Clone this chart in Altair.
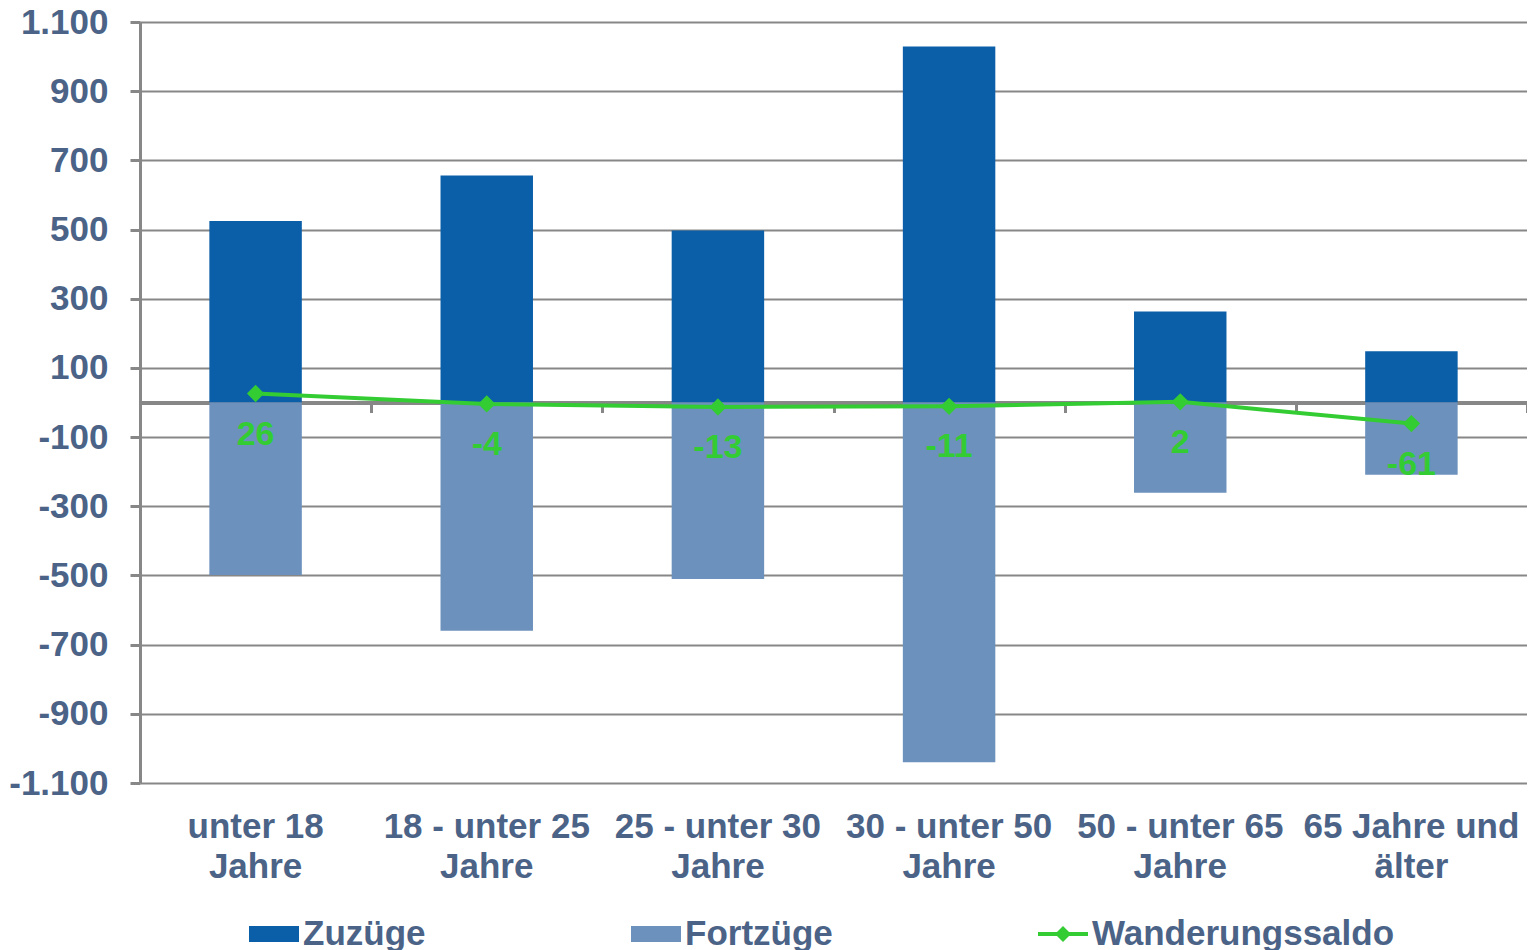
import altair as alt
import pandas as pd

categories = ["unter 18\nJahre", "18 - unter 25\nJahre", "25 - unter 30\nJahre",
              "30 - unter 50\nJahre", "50 - unter 65\nJahre", "65 Jahre und\nälter"]
zuzuege = [525, 656, 497, 1029, 263, 148]
fortzuege = [-499, -660, -510, -1040, -261, -209]
saldo = [26, -4, -13, -11, 2, -61]
series = ["Zuzüge", "Fortzüge", "Wanderungssaldo"]
colors = ["#0B5FA8", "#6C91BD", "#33CC33"]
y_ticks = [-1100, -900, -700, -500, -300, -100, 100, 300, 500, 700, 900, 1100]

rows = []
for c, z, f in zip(categories, zuzuege, fortzuege):
    rows.append({"kategorie": c, "serie": "Zuzüge", "wert": z})
    rows.append({"kategorie": c, "serie": "Fortzüge", "wert": f})
df_bars = pd.DataFrame(rows)
df_line = pd.DataFrame({"kategorie": categories, "saldo": saldo})
df_legend = pd.concat([df_bars, pd.DataFrame({"kategorie": categories,
                                              "serie": "Wanderungssaldo",
                                              "wert": saldo})], ignore_index=True)
df_legend["unsichtbar"] = 0

FONT = "Liberation Sans"
LBL = "#4B6387"
GRID = "#878787"

xscale = alt.Scale(domain=categories, paddingInner=0.6, paddingOuter=0.3)
xscale_full = alt.Scale(domain=categories, paddingInner=0, paddingOuter=0)
yscale = alt.Scale(domain=[-1100, 1100], nice=False, zero=False)

y_axis = alt.Axis(values=y_ticks, title=None,
                  labelExpr="replace(replace(format(datum.value, ','), ',', '.'), '\u2212', '-')",
                  labelFont=FONT, labelFontWeight="bold", labelFontSize=35, labelColor=LBL,
                  labelPadding=22, domainColor=GRID, domainWidth=3,
                  tickColor=GRID, tickWidth=3, tickSize=10,
                  gridColor=GRID, gridWidth=2)

rect_path = "M-1,-0.32H1V0.32H-1Z"
line_path = "M-1,-0.08H1V0.08H-1Z M0,-0.32L0.32,0L0,0.32L-0.32,0Z"

legend = alt.Legend(title=None, orient="none", legendX=109, legendY=887,
                    direction="horizontal", columns=3, columnPadding=205,
                    padding=0, symbolSize=2500, symbolStrokeWidth=0,
                    symbolOpacity=1,
                    labelFont=FONT, labelFontWeight="bold", labelFontSize=35,
                    labelColor=LBL, labelOffset=4, labelLimit=400)

color_enc = alt.Color("serie:N", scale=alt.Scale(domain=series, range=colors), legend=legend)

legend_carrier = alt.Chart(df_legend).mark_point(filled=True, size=2500, strokeWidth=0).encode(
    x=alt.X("kategorie:N", sort=categories, scale=xscale, axis=None),
    y=alt.Y("wert:Q", scale=yscale, axis=y_axis),
    color=color_enc,
    shape=alt.Shape("serie:N", scale=alt.Scale(domain=series,
                                               range=[rect_path, rect_path, line_path]),
                    legend=legend),
    opacity=alt.Opacity("unsichtbar:Q", scale=alt.Scale(domain=[0, 1], range=[0, 0]),
                        legend=None),
)

bars = alt.Chart(df_bars).mark_bar().encode(
    x=alt.X("kategorie:N", sort=categories, scale=xscale,
            axis=alt.Axis(title=None, domain=False, ticks=False, grid=False,
                          labelAngle=0, labelExpr="split(datum.label, '\\n')",
                          labelFont=FONT, labelFontWeight="bold", labelFontSize=35,
                          labelColor=LBL, labelPadding=26, labelLineHeight=40,
                          labelLimit=400)),
    y=alt.Y("wert:Q", scale=yscale, axis=y_axis, stack=None),
    color=color_enc,
)

line = alt.Chart(df_line).mark_line(color="#33CC33", strokeWidth=4).encode(
    x=alt.X("kategorie:N", sort=categories, scale=xscale_full,
            axis=alt.Axis(title=None, orient="bottom", offset=-380.5, labels=False,
                          grid=False, domainColor=GRID, domainWidth=4,
                          ticks=True, tickBand="extent", tickSize=10, tickWidth=3,
                          tickColor=GRID)),
    y=alt.Y("saldo:Q", scale=yscale, axis=y_axis),
)

points = alt.Chart(df_line).mark_point(shape="diamond", filled=True, size=300,
                                       color="#33CC33", opacity=1).encode(
    x=alt.X("kategorie:N", sort=categories, scale=xscale, axis=None),
    y=alt.Y("saldo:Q", scale=yscale, axis=y_axis),
)

labels = alt.Chart(df_line).transform_calculate(
    beschriftung="'' + datum.saldo"
).mark_text(font=FONT, fontWeight="bold", fontSize=34,
            color="#33CC33", dy=41, baseline="middle").encode(
    x=alt.X("kategorie:N", sort=categories, scale=xscale, axis=None),
    y=alt.Y("saldo:Q", scale=yscale, axis=y_axis),
    text=alt.Text("beschriftung:N"),
)

chart = alt.layer(legend_carrier, bars, line, points, labels).resolve_axis(
    x="independent").resolve_scale(x="independent").properties(
    width=1387, height=761, autosize=alt.AutoSizeParams(type="none"),
    padding={"left": 132, "top": 14, "right": 0, "bottom": 167},
).configure_view(stroke=None).configure(background="white")

chart.save("out.html", embed_options={"renderer": "svg", "actions": False})
